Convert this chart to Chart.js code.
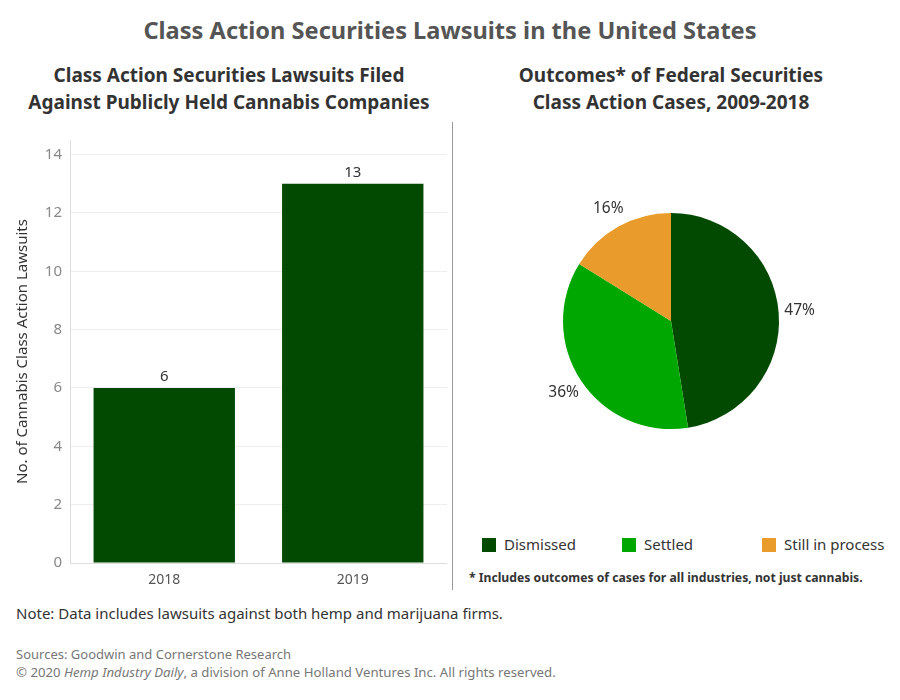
<!DOCTYPE html>
<html>
<head>
<meta charset="utf-8">
<script src="https://cdn.jsdelivr.net/npm/chart.js@4.4.1/dist/chart.umd.min.js"></script>
<style>
  body { margin: 0; background: #fff; font-family: "Noto Sans", sans-serif; }
  #page { position: relative; width: 900px; height: 700px; overflow: hidden; }
  .t { position: absolute; white-space: nowrap; }
  #title { left: 0; width: 900px; top: 14px; text-align: center; font-size: 23.6px; font-weight: bold; color: #555; }
  .sub { top: 62px; width: 452px; text-align: center; font-size: 19px; font-weight: bold; color: #333; line-height: 27px; }
  #divider { position: absolute; left: 452px; top: 122px; width: 1px; height: 468px; background: #999; }
  #legend { position: absolute; top: 534px; left: 482px; font-size: 15px; color: #333; }
  .item { position: absolute; top: 0; white-space: nowrap; }
  .sw { display: inline-block; width: 14px; height: 14px; margin-right: 8px; vertical-align: -2px; }
  #foot { left: 469px; top: 569px; font-size: 12.2px; font-weight: bold; color: #333; }
  #note { left: 16px; top: 603px; font-size: 15px; color: #333; }
  .src { left: 16px; font-size: 13px; color: #777; }
</style>
</head>
<body>
<div id="page">
  <div class="t" id="title">Class Action Securities Lawsuits in the United States</div>
  <div class="t sub" style="left:3px">Class Action Securities Lawsuits Filed<br>Against Publicly Held Cannabis Companies</div>
  <div class="t sub" style="left:445px">Outcomes* of Federal Securities<br>Class Action Cases, 2009-2018</div>
  <canvas id="barChart" style="position:absolute;left:0;top:120px"></canvas>
  <div id="divider"></div>
  <canvas id="pieChart" style="position:absolute;left:511px;top:161px"></canvas>
  <div id="legend"></div>
  <div class="t" id="foot">* Includes outcomes of cases for all industries, not just cannabis.</div>
  <div class="t" id="note">Note: Data includes lawsuits against both hemp and marijuana firms.</div>
  <div class="t src" style="top:645px">Sources: Goodwin and Cornerstone Research</div>
  <div class="t src" style="top:663px;font-size:13.2px">© 2020 <i>Hemp Industry Daily</i>, a division of Anne Holland Ventures Inc. All rights reserved.</div>
</div>
<script>
const years = ["2018", "2019"];
const lawsuits = [6, 13];
const yTicks = [0, 2, 4, 6, 8, 10, 12, 14];

const outcomeLabels = ["Dismissed", "Settled", "Still in process"];
const outcomeShares = [47, 36, 16];
const outcomeColors = ["#024a02", "#00a700", "#e99b2b"];

const darkGreen = "#024a02";
const fontFamily = "'Noto Sans', sans-serif";

// value labels above the bars
const barLabels = {
    id: "barLabels",
    afterDatasetsDraw(chart) {
        const ctx = chart.ctx;
        const meta = chart.getDatasetMeta(0);
        ctx.save();
        ctx.font = "15px " + fontFamily;
        ctx.fillStyle = "#333";
        ctx.textAlign = "center";
        ctx.textBaseline = "bottom";
        meta.data.forEach((bar, i) => {
            ctx.fillText(lawsuits[i], bar.x, bar.y - 4);
        });
        ctx.restore();
    },
};

// percent labels outside the slices
const pieLabels = {
    id: "pieLabels",
    afterDatasetsDraw(chart) {
        const ctx = chart.ctx;
        const meta = chart.getDatasetMeta(0);
        ctx.save();
        ctx.font = "15.5px " + fontFamily;
        ctx.fillStyle = "#333";
        ctx.textAlign = "center";
        ctx.textBaseline = "middle";
        meta.data.forEach((arc, i) => {
            const mid = (arc.startAngle + arc.endAngle) / 2;
            const r = arc.outerRadius + 21;
            ctx.fillText(outcomeShares[i] + "%", arc.x + Math.cos(mid) * r, arc.y + Math.sin(mid) * r);
        });
        ctx.restore();
    },
};

const barCanvas = document.getElementById("barChart");
barCanvas.width = 447;
barCanvas.height = 470;
new Chart(barCanvas, {
    type: "bar",
    data: {
        labels: years,
        datasets: [
            {
                data: lawsuits,
                backgroundColor: darkGreen,
                barPercentage: 0.75,
                categoryPercentage: 1,
            },
        ],
    },
    options: {
        responsive: false,
        animation: false,
        layout: { padding: { top: 20, left: 0, right: 0, bottom: 0 } },
        plugins: { legend: { display: false }, tooltip: { enabled: false } },
        scales: {
            x: {
                grid: { display: false },
                border: { color: "#ddd" },
                ticks: { color: "#555", font: { family: fontFamily, size: 14 }, padding: 1 },
                afterFit(scale) { scale.height = 27; },
            },
            y: {
                min: 0,
                max: 14.5,
                afterBuildTicks(scale) { scale.ticks = yTicks.map((v) => ({ value: v })); },
                grid: { color: "#eee", drawTicks: false },
                border: { color: "#ddd" },
                ticks: { color: "#888", font: { family: fontFamily, size: 15 }, padding: 8 },
                title: {
                    display: true,
                    text: "No. of Cannabis Class Action Lawsuits",
                    color: "#333",
                    font: { family: fontFamily, size: 15 },
                    padding: { top: 14, bottom: 0 },
                },
                afterFit(scale) { scale.width = 70; },
            },
        },
    },
    plugins: [barLabels],
});

const pieCanvas = document.getElementById("pieChart");
pieCanvas.width = 320;
pieCanvas.height = 320;
new Chart(pieCanvas, {
    type: "pie",
    data: {
        labels: outcomeLabels,
        datasets: [
            {
                data: outcomeShares,
                backgroundColor: outcomeColors,
                borderWidth: 0,
            },
        ],
    },
    options: {
        responsive: false,
        animation: false,
        layout: { padding: 52 },
        plugins: { legend: { display: false }, tooltip: { enabled: false } },
    },
    plugins: [pieLabels],
});

// legend built from the same arrays
const legend = document.getElementById("legend");
const legendX = [0, 140, 280];
outcomeLabels.forEach((label, i) => {
    const item = document.createElement("div");
    item.className = "item";
    item.style.left = legendX[i] + "px";
    item.innerHTML = '<span class="sw" style="background:' + outcomeColors[i] + '"></span>' + label;
    legend.appendChild(item);
});
</script>
</body>
</html>
